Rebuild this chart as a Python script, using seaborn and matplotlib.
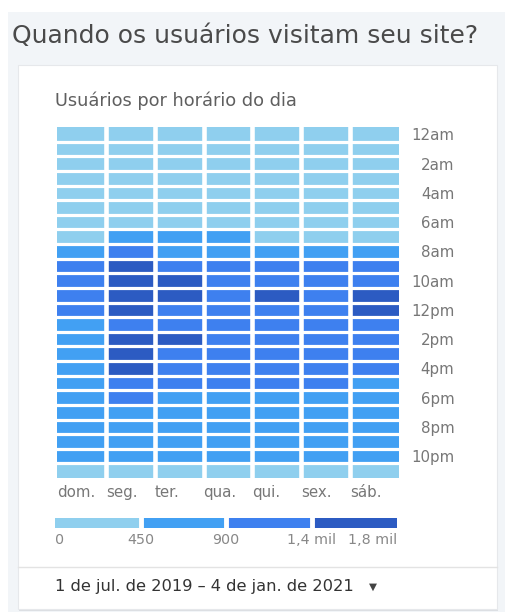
import numpy as np
import pandas as pd
import seaborn as sns
import matplotlib.pyplot as plt
from matplotlib.colors import ListedColormap, BoundaryNorm
from matplotlib.patches import Rectangle

# Data: users per hour of day (rows) and weekday (columns)
days = ['dom.', 'seg.', 'ter.', 'qua.', 'qui.', 'sex.', 'sáb.']
hours = ['12am', '1am', '2am', '3am', '4am', '5am', '6am', '7am', '8am', '9am', '10am', '11am',
         '12pm', '1pm', '2pm', '3pm', '4pm', '5pm', '6pm', '7pm', '8pm', '9pm', '10pm', '11pm']
hour_labels = ['12am', '2am', '4am', '6am', '8am', '10am', '12pm', '2pm', '4pm', '6pm', '8pm', '10pm']

users = [
    [310, 290, 300, 295, 305, 320, 330],
    [260, 240, 250, 245, 250, 270, 290],
    [210, 200, 205, 200, 210, 220, 240],
    [180, 170, 175, 170, 175, 185, 200],
    [170, 160, 165, 160, 170, 175, 185],
    [190, 200, 195, 190, 195, 200, 190],
    [260, 330, 320, 310, 300, 290, 240],
    [380, 620, 600, 580, 420, 400, 360],
    [720, 1050, 880, 860, 850, 840, 800],
    [1000, 1550, 1250, 1200, 1150, 1100, 1050],
    [1050, 1650, 1450, 1250, 1200, 1150, 1100],
    [1100, 1600, 1480, 1300, 1420, 1200, 1450],
    [1080, 1520, 1300, 1250, 1200, 1150, 1470],
    [850, 1300, 1200, 1150, 1100, 1050, 1000],
    [880, 1500, 1430, 1250, 1200, 1100, 1050],
    [860, 1480, 1300, 1200, 1150, 1100, 1000],
    [840, 1450, 1200, 1150, 1100, 1050, 950],
    [800, 1200, 1100, 1050, 1000, 950, 850],
    [750, 950, 880, 860, 850, 820, 800],
    [720, 820, 800, 790, 780, 760, 740],
    [700, 780, 760, 750, 740, 720, 700],
    [680, 740, 720, 710, 700, 690, 680],
    [600, 650, 640, 630, 620, 600, 580],
    [420, 430, 420, 410, 400, 390, 400],
]

bounds = [0, 450, 900, 1400, 1800]
bound_labels = ['0', '450', '900', '1,4 mil', '1,8 mil']
colors = ['#8fcfee', '#42a0f3', '#3e80ef', '#2c5bc2']

df = pd.DataFrame(users, index=hours, columns=days)
cmap = ListedColormap(colors)
norm = BoundaryNorm(bounds, cmap.N)

W, H = 505, 612
fig = plt.figure(figsize=(W / 100, H / 100), dpi=100)
plt.rcParams['font.family'] = ['DejaVu Sans']

# background panel + card (pixel coordinates)
bg = fig.add_axes([0, 0, 1, 1])
bg.set_xlim(0, W)
bg.set_ylim(H, 0)
bg.axis('off')
bg.add_patch(Rectangle((8, 12), W - 8, H - 12, color='#f2f5f8', lw=0))
bg.add_patch(Rectangle((19, 66), 479, 545, color='#dcdfe3', lw=0))
bg.add_patch(Rectangle((18, 65), 479, 544, facecolor='white', edgecolor='#e6e8eb', lw=0.8))
bg.plot([18, 497], [567, 567], color='#e3e3e3', lw=1)
bg.text(12, 36, 'Quando os usuários visitam seu site?', fontsize=18, color='#4a4a4a',
        va='center', ha='left')
bg.text(55, 101, 'Usuários por horário do dia', fontsize=12.8, color='#5f5f5f',
        va='center', ha='left')
bg.text(55, 587, '1 de jul. de 2019 – 4 de jan. de 2021', fontsize=11.7, color='#333333',
        va='center', ha='left')
bg.text(373, 587, '▼', fontsize=7.5, color='#444444', va='center', ha='center')

# heatmap
ax = fig.add_axes([57 / W, 1 - 478 / H, 342 / W, 351 / H])
sns.heatmap(df, cmap=cmap, norm=norm, cbar=False, ax=ax, linewidths=0)
for x in range(1, len(days)):
    ax.axvline(x, color='white', lw=3.3)
for y in range(1, len(hours)):
    ax.axhline(y, color='white', lw=2.3)

ax.set_xticks(np.arange(len(days)))
ax.set_xticklabels(days, ha='left', rotation=0, fontsize=10.8, color='#777777')
ax.yaxis.tick_right()
ax.set_yticks(np.arange(0, len(hours), 2) + 0.5)
ax.set_yticklabels(hour_labels, rotation=0, ha='right', fontsize=10.8, color='#777777')
ax.tick_params(axis='x', length=0, pad=5)
ax.tick_params(axis='y', length=0, pad=40)
ax.set_xlabel('')
ax.set_ylabel('')

# legend bar
lax = fig.add_axes([55 / W, 1 - 528 / H, 342 / W, 10 / H])
mids = [[(bounds[i] + bounds[i + 1]) / 2 for i in range(len(bounds) - 1)]]
sns.heatmap(mids, cmap=cmap, norm=norm, cbar=False, ax=lax, linewidths=0)
for x in range(1, len(bounds) - 1):
    lax.axvline(x, color='white', lw=3.5)
lax.set_xticks([])
lax.set_yticks([])
for i, lab in enumerate(bound_labels):
    ha = 'left' if i == 0 else ('right' if i == len(bound_labels) - 1 else 'center')
    lax.text(i, 2.2, lab, ha=ha, va='center', fontsize=10.3, color='#888888')

fig.savefig('out.png', dpi=100)
